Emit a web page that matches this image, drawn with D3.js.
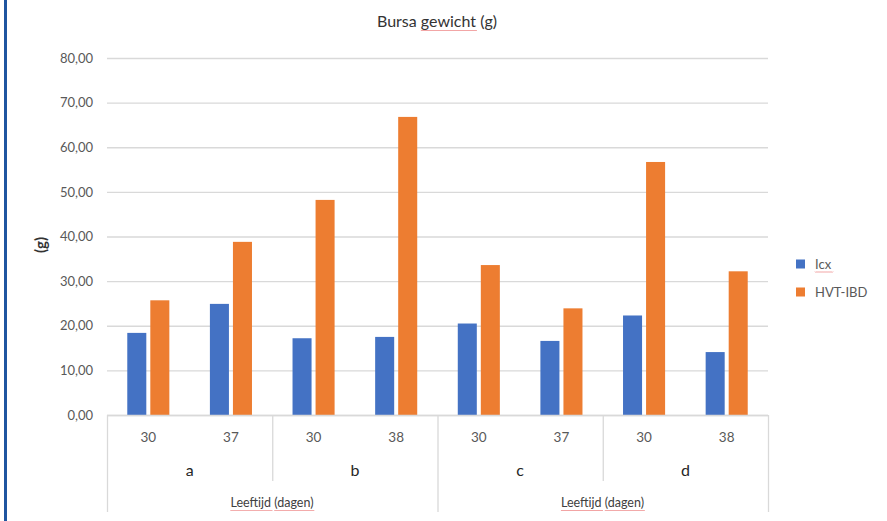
<!DOCTYPE html>
<html><head><meta charset="utf-8">
<script src="https://cdn.jsdelivr.net/npm/d3@7"></script>
<style>
body{margin:0;background:#fff;}
svg{display:block;font-family:Lato,"Open Sans",sans-serif;}
</style></head><body>
<svg id="c" width="887" height="521"></svg>
<script>
const groups = ["a","b","c","d"];
const ages = [["30","37"],["30","38"],["30","37"],["30","38"]];
const seriesNames = ["Icx","HVT-IBD"];
const icx = [18.4, 24.9, 17.2, 17.5, 20.5, 16.6, 22.3, 14.1];
const hvt = [25.7, 38.8, 48.2, 66.8, 33.6, 23.9, 56.7, 32.2];
const yTicks = [0,10,20,30,40,50,60,70,80];
const superLabel = "Leeftijd (dagen)";
const title = "Bursa gewicht (g)";
const yTitle = "(g)";
const colors = ["#4472c4","#ed7d31"];

const svg = d3.select("#c");
const L=107, R=768, T=58, B=415;

svg.append("rect").attr("x",4).attr("y",0).attr("width",3).attr("height",521).attr("fill","#1f55a0");

const cats = [];
groups.forEach((g,i)=>ages[i].forEach((a,j)=>cats.push({g,a,key:g+"-"+j,i:cats.length})));

const x0 = d3.scaleBand().domain(cats.map(d=>d.key)).range([L,R]).padding(0);
const x1 = d3.scaleBand().domain(seriesNames).range([0,x0.bandwidth()]).paddingInner(0.174).paddingOuter(0.88);
const y = d3.scaleLinear().domain([0,80]).range([B,T]);
const fmt = v => d3.format(".2f")(v).replace(".",",");

svg.append("g").selectAll("line").data(yTicks).join("line")
  .attr("x1",L).attr("x2",R).attr("y1",d=>y(d)+0.5).attr("y2",d=>y(d)+0.5)
  .attr("stroke","#d9d9d9").attr("stroke-width",1.3);

const yAxis = svg.append("g").attr("transform",`translate(${L-14},0)`)
  .call(d3.axisLeft(y).tickValues(yTicks).tickFormat(fmt).tickSize(0).tickPadding(0));
yAxis.select(".domain").remove();
yAxis.selectAll("text").attr("fill","#595959").attr("font-size",13).attr("font-family","Lato,'Open Sans',sans-serif");

const vals = [icx,hvt];
cats.forEach((c,ci)=>{
  seriesNames.forEach((s,si)=>{
    svg.append("rect")
      .attr("x",x0(c.key)+x1(s)).attr("width",x1.bandwidth())
      .attr("y",y(vals[si][ci])).attr("height",B-y(vals[si][ci]))
      .attr("fill",colors[si]);
  });
});

const lc="#d9d9d9";
const ax = svg.append("g");
cats.forEach(c=>{
  ax.append("text").attr("x",x0(c.key)+x0.bandwidth()/2).attr("y",442)
    .attr("text-anchor","middle").attr("fill","#595959").attr("font-size",13.5).text(c.a);
});
groups.forEach((g,i)=>{
  const xs = x0(cats[i*2].key), xe = x0(cats[i*2+1].key)+x0.bandwidth();
  ax.append("text").attr("x",(xs+xe)/2).attr("y",476).attr("text-anchor","middle")
    .attr("fill","#262626").attr("font-size",16).text(g);
});
const sepX = [0,2,4,6,8].map(k=> k<8 ? x0(cats[k].key) : R);
sepX.forEach((sx,k)=>{
  const long = (k%2===0);
  ax.append("line").attr("x1",sx+0.5).attr("x2",sx+0.5).attr("y1",B).attr("y2",long?512:481)
    .attr("stroke",lc).attr("stroke-width",1.3);
});
ax.append("line").attr("x1",L).attr("x2",R).attr("y1",B+0.5).attr("y2",B+0.5).attr("stroke",lc).attr("stroke-width",1.3);

function squiggle(x1p,x2p,yy){
  let d=`M${x1p},${yy}`;
  for(let xx=x1p;xx<x2p;xx+=2){ d+=` L${xx+1},${yy+1} L${xx+2},${yy}`; }
  svg.append("path").attr("d",d).attr("fill","none").attr("stroke","#e86060").attr("stroke-width",0.6);
}
function textWithSquiggle(parent,xp,yp,parts,attrs){
  const t = parent.append("text").attr("x",xp).attr("y",yp);
  Object.entries(attrs).forEach(([k,v])=>t.attr(k,v));
  const spans = parts.map(p=>t.append("tspan").text(p[0]));
  const bb = t.node().getBBox();
  let cx = bb.x;
  parts.forEach((p,i)=>{
    const w = spans[i].node().getComputedTextLength();
    if(p[1]) squiggle(cx, cx+w, yp+3);
    cx += w;
  });
  return t;
}

[[L,437],[437,R]].forEach(([a,b])=>{
  textWithSquiggle(ax,(a+b)/2,507,[["Leeftijd",true],[" ",false],["(dagen)",true]],
    {"text-anchor":"middle","fill":"#404040","font-size":12.5});
});

textWithSquiggle(svg,437,27,[["Bursa ",false],["gewicht",true],[" (g)",false]],
  {"text-anchor":"middle","fill":"#333","font-size":16});

svg.append("text").attr("transform",`translate(46,245) rotate(-90)`)
  .attr("text-anchor","middle").attr("fill","#333").attr("font-size",15).attr("font-weight","bold").text(yTitle);

seriesNames.forEach((s,i)=>{
  const ly = 264 + i*28;
  svg.append("rect").attr("x",796).attr("y",ly-4.5).attr("width",9).attr("height",9).attr("fill",colors[i]);
  if(i===0){
    textWithSquiggle(svg,815,ly+4.5,[[s,true]],{"fill":"#595959","font-size":13});
  } else {
    svg.append("text").attr("x",815).attr("y",ly+4.5).attr("fill","#595959").attr("font-size",13).text(s);
  }
});
</script>
</body></html>
